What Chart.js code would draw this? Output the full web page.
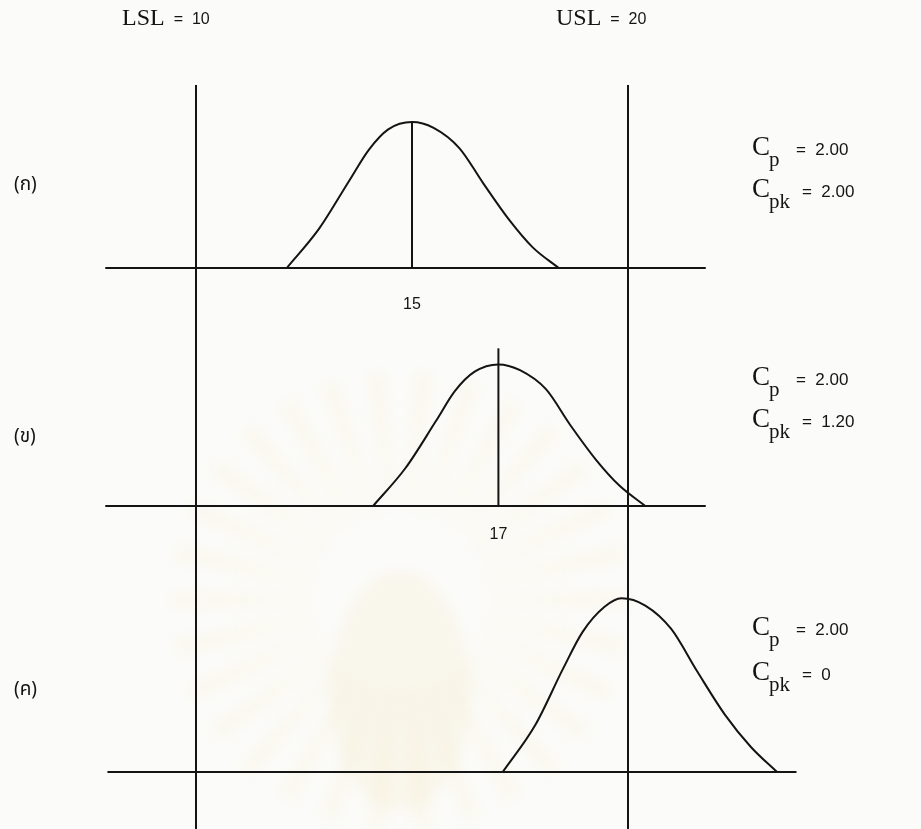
<!DOCTYPE html>
<html>
<head>
<meta charset="utf-8">
<script src="https://cdn.jsdelivr.net/npm/chart.js@4.4.1/dist/chart.umd.min.js"></script>
<style>
  html, body { margin: 0; padding: 0; background: #fbfbf9; }
  #wrap { width: 921px; height: 829px; }
</style>
</head>
<body>
<div id="wrap"><canvas id="cpChart" width="921" height="829"></canvas></div>
<script>
// specification limits
var LSL = 10;
var USL = 20;

// one panel per process setting
var panelNames = ['(ก)', '(ข)', '(ค)'];
var means = [15, 17, 20];
var cpValues = ['2.00', '2.00', '2.00'];
var cpkValues = ['2.00', '1.20', '0'];

// bell curve outlines (x in measurement units, height relative to curve (ก) peak)
var curveX1 = [12.1, 12.85, 13.55, 14.0, 14.45, 15.0, 15.5, 16.1, 16.65, 17.25, 17.8, 18.4];
var curveY1 = [0, 0.27, 0.60, 0.81, 0.95, 1.0, 0.96, 0.82, 0.58, 0.33, 0.14, 0];
var curveX2 = [14.1, 14.85, 15.55, 16.0, 16.45, 17.0, 17.5, 18.1, 18.65, 19.25, 19.8, 20.4];
var curveY2 = [0, 0.26, 0.58, 0.79, 0.92, 0.97, 0.93, 0.80, 0.56, 0.32, 0.14, 0];
var curveX3 = [17.1, 17.85, 18.5, 18.95, 19.45, 19.85, 20.4, 21.0, 21.6, 22.25, 22.85, 23.45];
var curveY3 = [0, 0.32, 0.71, 0.96, 1.13, 1.19, 1.14, 0.98, 0.69, 0.39, 0.17, 0];

// extent of each horizontal axis line
var axisStart = [7.9, 7.9, 7.95];
var axisEnd = [21.8, 21.8, 23.9];

// height of the mean marker in each panel (0 = none)
var meanMarkTop = [1.0, 1.08, 0];

var INK = '#141414';

function toPoints(xs, ys) {
    return xs.map(function (x, i) { return { x: x, y: ys[i] }; });
}

var curves = [toPoints(curveX1, curveY1), toPoints(curveX2, curveY2), toPoints(curveX3, curveY3)];
var datasets = [];

for (var i = 0; i < 3; i++) {
    var axisId = 'y' + (i + 1);
    // horizontal axis line of the panel
    datasets.push({
        data: [{ x: axisStart[i], y: 0 }, { x: axisEnd[i], y: 0 }],
        yAxisID: axisId,
        borderColor: INK,
        borderWidth: 2,
        pointRadius: 0
    });
    // the distribution
    datasets.push({
        data: curves[i],
        yAxisID: axisId,
        borderColor: INK,
        borderWidth: 2,
        pointRadius: 0,
        cubicInterpolationMode: 'monotone'
    });
    // vertical line at the mean
    if (meanMarkTop[i] > 0) {
        datasets.push({
            data: [{ x: means[i], y: 0 }, { x: means[i], y: meanMarkTop[i] }],
            yAxisID: axisId,
            borderColor: INK,
            borderWidth: 2,
            pointRadius: 0
        });
    }
}

// backdrop: faint seal printed behind the figure
var sealPlugin = {
    id: 'seal',
    beforeDraw: function (chart) {
        var c = chart.ctx;
        c.save();
        c.fillStyle = '#fbfbf9';
        c.fillRect(0, 0, chart.width, chart.height);
        var cx = 400, cy = 600;
        c.filter = 'blur(7px)';
        c.fillStyle = 'rgba(245, 215, 120, 0.075)';
        for (var k = 0; k < 30; k++) {
            var a = -Math.PI + k * Math.PI / 15;
            c.beginPath();
            c.moveTo(cx + Math.cos(a - 0.05) * 90, cy + Math.sin(a - 0.05) * 90);
            c.lineTo(cx + Math.cos(a - 0.045) * 230, cy + Math.sin(a - 0.045) * 230);
            c.lineTo(cx + Math.cos(a + 0.045) * 230, cy + Math.sin(a + 0.045) * 230);
            c.lineTo(cx + Math.cos(a + 0.05) * 90, cy + Math.sin(a + 0.05) * 90);
            c.closePath();
            c.fill();
        }
        c.fillStyle = 'rgba(235, 200, 110, 0.09)';
        c.beginPath();
        c.ellipse(cx, cy + 90, 70, 120, 0, 0, Math.PI * 2);
        c.fill();
        c.restore();
    }
};

// spec limit lines, labels and capability values
var annotatePlugin = {
    id: 'annotate',
    afterDatasetsDraw: function (chart) {
        var c = chart.ctx;
        var xs = chart.scales.x;
        var top = chart.scales.y1.getPixelForValue(1.253);
        var bottom = chart.chartArea.bottom;

        c.save();
        c.strokeStyle = INK;
        c.lineWidth = 2;
        [LSL, USL].forEach(function (v) {
            var px = Math.round(xs.getPixelForValue(v));
            c.beginPath();
            c.moveTo(px, top);
            c.lineTo(px, bottom);
            c.stroke();
        });

        c.fillStyle = INK;
        c.textBaseline = 'middle';

        // limit headings
        function heading(name, value, x) {
            c.font = '24px "Liberation Serif", serif';
            c.textAlign = 'left';
            c.fillText(name, x, 19);
            var w = c.measureText(name).width;
            c.font = '16px "Liberation Sans", sans-serif';
            c.fillText('=  ' + value, x + w + 9, 20);
        }
        heading('LSL', LSL, 122);
        heading('USL', USL, 556);

        var cpRows = [[148, 190], [378, 420], [628, 673]];
        var nameY = [186, 438, 691];
        var meanLabelGap = [37, 29, 0];

        for (var i = 0; i < 3; i++) {
            var ys = chart.scales['y' + (i + 1)];
            var base = ys.getPixelForValue(0);

            // panel label
            c.font = '19px "Noto Sans Thai", "Loma", "Garuda", "DejaVu Sans", sans-serif';
            c.textAlign = 'left';
            c.fillText(panelNames[i], 14, nameY[i]);

            // mean value under the axis
            if (meanMarkTop[i] > 0) {
                c.font = '16px "Liberation Sans", sans-serif';
                c.textAlign = 'center';
                c.fillText(String(means[i]), xs.getPixelForValue(means[i]), base + meanLabelGap[i]);
            }

            // Cp and Cpk
            var rows = [['p', cpValues[i]], ['pk', cpkValues[i]]];
            rows.forEach(function (r, j) {
                var y = cpRows[i][j];
                c.textAlign = 'left';
                c.font = '27px "Liberation Serif", serif';
                c.fillText('C', 752, y);
                c.font = '21px "Liberation Serif", serif';
                c.fillText(r[0], 769, y + 12);
                c.font = '17px "Liberation Sans", sans-serif';
                c.fillText('=  ' + r[1], j === 0 ? 796 : 802, y + 2);
            });
        }
        c.restore();
    }
};

var ctx = document.getElementById('cpChart').getContext('2d');

var cpChart = new Chart(ctx, {
    type: 'line',
    data: { datasets: datasets },
    plugins: [sealPlugin, annotatePlugin],
    options: {
        responsive: false,
        animation: false,
        layout: { padding: 0 },
        plugins: {
            legend: { display: false },
            tooltip: { enabled: false }
        },
        scales: {
            x: { type: 'linear', min: 5.463, max: 26.782, display: false },
            y1: { type: 'linear', position: 'right', stack: 'panels', stackWeight: 300, min: -0.219, max: 1.836, display: false },
            y2: { type: 'linear', position: 'right', stack: 'panels', stackWeight: 240, min: -0.233, max: 1.411, display: false },
            y3: { type: 'linear', position: 'right', stack: 'panels', stackWeight: 289, min: -0.390, max: 1.589, display: false }
        }
    }
});
</script>
</body>
</html>
